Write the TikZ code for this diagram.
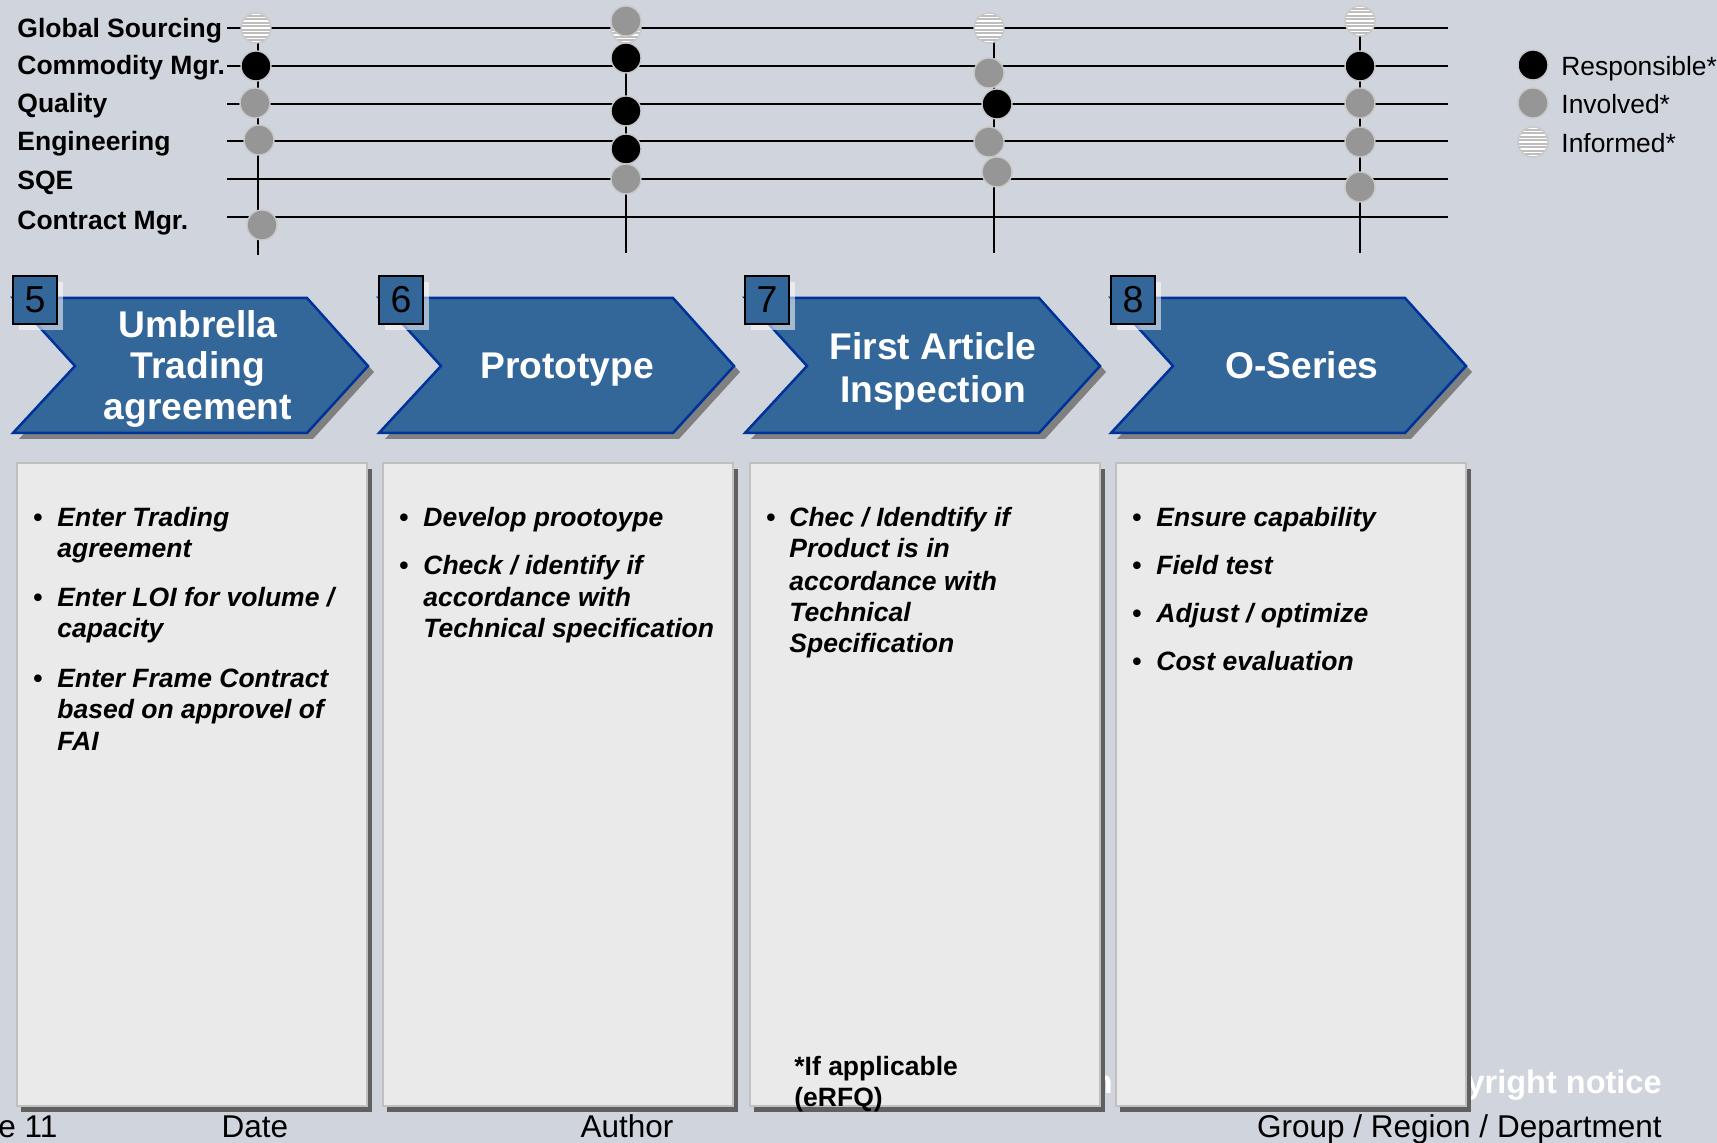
\documentclass[tikz,border=0pt]{standalone}
\usepackage{fontspec}
\setmainfont{Liberation Sans}
\definecolor{bg}{RGB}{208,212,220}
\definecolor{chevblue}{RGB}{51,102,153}
\definecolor{chevedge}{RGB}{0,51,153}
\definecolor{chevshade}{RGB}{128,128,128}
\definecolor{boxfill}{RGB}{234,234,234}
\definecolor{boxedge}{RGB}{192,192,192}
\definecolor{boxshade}{RGB}{96,96,96}
\definecolor{invgray}{RGB}{150,150,150}
\definecolor{infgray}{RGB}{190,190,190}
\definecolor{dotrim}{RGB}{200,200,200}
\begin{document}
\begin{tikzpicture}[x=0.5pt,y=-0.5pt,
  rowline/.style={line width=1pt},
  rowlabel/.style={anchor=base west,inner sep=0pt,font=\fontsize{13.25}{15}\selectfont\bfseries},
  dot/.style={circle,minimum size=15pt,inner sep=0pt,draw=dotrim,line width=0.7pt},
  resp/.style={dot,fill=black},
  invl/.style={dot,fill=invgray},
  info/.style={dot,fill=infgray,path picture={
      \foreach \k in {-4,...,4}
        \draw[white,line width=0.85pt]
          ([yshift=\k*1.75pt]path picture bounding box.west) --
          ([yshift=\k*1.75pt]path picture bounding box.east);}},
  legtext/.style={anchor=base west,inner sep=0pt,font=\fontsize{13.2}{15}\selectfont},
  chevron/.style={fill=chevblue,draw=chevedge,line width=1.25pt,line join=miter},
  chevtext/.style={anchor=base,inner sep=0pt,text=white,font=\fontsize{18.6}{21}\selectfont\bfseries},
  numbox/.style={draw=black,fill=chevblue,line width=0.75pt,minimum width=22pt,minimum height=24pt,inner sep=0pt,font=\fontsize{18.75}{20}\selectfont},
  card/.style={fill=boxfill,draw=boxedge,line width=1pt},
  cardshade/.style={fill=boxshade},
  item/.style={anchor=base west,inner sep=0pt,font=\fontsize{13.25}{15}\selectfont\bfseries\itshape},
  bul/.style={anchor=base,inner sep=0pt,font=\fontsize{13.25}{15}\selectfont\bfseries},
  note/.style={anchor=base west,inner sep=0pt,font=\fontsize{13.25}{15}\selectfont\bfseries},
  foot/.style={anchor=base,inner sep=0pt,font=\fontsize{15.75}{18}\selectfont},
  ghost/.style={anchor=base east,inner sep=0pt,text=white,font=\fontsize{16.25}{18}\selectfont\bfseries},
]
% canvas
\fill[bg] (0,0) rectangle (1717,1143);
\useasboundingbox (0,0) rectangle (1717,1143);

% ---- responsibility matrix: role lines ----
\foreach \yy [count=\i] in {28,66,104,141,179,217}{
  \coordinate (rs\i) at (227,\yy);
  \coordinate (re\i) at (1448,\yy);
  \draw[rowline] (rs\i) -- (re\i);
}
\node[rowlabel] (lab1) at (17,38)  {Global Sourcing};
\node[rowlabel] (lab2) at (17,75)  {Commodity Mgr.};
\node[rowlabel] (lab3) at (17,113) {Quality};
\node[rowlabel] (lab4) at (17,151) {Engineering};
\node[rowlabel] (lab5) at (17,190) {SQE};
\node[rowlabel] (lab6) at (17,230) {Contract Mgr.};

% phase columns
\coordinate (ct1) at (258,28);   \coordinate (cb1) at (258,255);
\coordinate (ct2) at (626,28);   \coordinate (cb2) at (626,253);
\coordinate (ct3) at (994,28);   \coordinate (cb3) at (994,253);
\coordinate (ct4) at (1360,21);  \coordinate (cb4) at (1360,253);
\foreach \i in {1,...,4}{\draw[rowline] (ct\i) -- (cb\i);}

% column 1
\node[info] (a1) at (256,28)  {};
\node[resp] (a2) at (256,66)  {};
\node[invl] (a3) at (255,103) {};
\node[invl] (a4) at (259,140) {};
\node[invl] (a6) at (262,225) {};
% column 2
\node[info] (b1) at (626,28)  {};
\node[invl] (b0) at (626,21)  {};
\node[resp] (b2) at (626,58)  {};
\node[resp] (b3) at (626,111) {};
\node[resp] (b4) at (626,149) {};
\node[invl] (b5) at (626,179) {};
% column 3
\node[info] (c1) at (989,28)  {};
\node[invl] (c2) at (989,73)  {};
\node[resp] (c3) at (997,104) {};
\node[invl] (c4) at (989,142) {};
\node[invl] (c5) at (997,172) {};
% column 4
\node[info] (d1) at (1360,21)  {};
\node[resp] (d2) at (1360,66)  {};
\node[invl] (d3) at (1360,103) {};
\node[invl] (d4) at (1360,142) {};
\node[invl] (d5) at (1360,187) {};

% legend
\node[resp] (kr) at (1533,65)  {};
\node[invl] (ki) at (1533,103) {};
\node[info] (kf) at (1533,142) {};
\node[legtext] (ktr) at (1561,76)  {Responsible*};
\node[legtext] (kti) at (1561,114) {Involved*};
\node[legtext] (ktf) at (1561,153) {Informed*};

% ---- footer line lying under the cards ----
\node[ghost] (gh1) at (1113,1093) {n};
\node[ghost] (gh2) at (1662,1093) {yright notice};

% ---- phase cards ----
\foreach \L in {17,383,750,1116}{
  \fill[cardshade] (\L+4,469) rectangle (\L+355,1112);
  \draw[card] (\L,463) rectangle (\L+350,1106);
}

% ---- phase chevrons ----
\foreach \L/\n in {13/5,379/6,745/7,1111/8}{
  \fill[chevshade] (\L+6,304) -- (\L+300,304) -- (\L+361,372) -- (\L+300,439)
        -- (\L+6,439) -- (\L+68,372) -- cycle;
  \draw[chevron] (\L,298) -- (\L+294,298) -- (\L+355,366) -- (\L+294,433)
        -- (\L,433) -- (\L+62,366) -- cycle;
  \fill[white,opacity=0.55] (\L+6,282) rectangle (\L+50,330);
  \node[numbox] (num\n) at (\L+22,300) {\n};
}
\node[chevtext] (p1a) at (198,338) {Umbrella};
\node[chevtext] (p1b) at (198,379) {Trading};
\node[chevtext] (p1c) at (198,420) {agreement};
\node[chevtext] (p2a) at (567,379) {Prototype};
\node[chevtext] (p3a) at (933,360) {First Article};
\node[chevtext] (p3b) at (933,403) {Inspection};
\node[chevtext] (p4a) at (1302,379) {O-Series};

% ---- card contents ----
% card 1
\node[bul]  (u1) at (38,527) {•};
\node[item] (t1) at (57,527) {Enter Trading};
\node[item] (t2) at (57,558) {agreement};
\node[bul]  (u2) at (38,607) {•};
\node[item] (t3) at (57,607) {Enter LOI for volume /};
\node[item] (t4) at (57,638) {capacity};
\node[bul]  (u3) at (38,687) {•};
\node[item] (t5) at (57,687) {Enter Frame Contract};
\node[item] (t6) at (57,718) {based on approvel of};
\node[item] (t7) at (57,750) {FAI};
% card 2
\node[bul]  (v1) at (404,527) {•};
\node[item] (s1) at (423,527) {Develop prootoype};
\node[bul]  (v2) at (404,575) {•};
\node[item] (s2) at (423,575) {Check / identify if};
\node[item] (s3) at (423,607) {accordance with};
\node[item] (s4) at (423,638) {Technical specification};
% card 3
\node[bul]  (w1) at (771,527) {•};
\node[item] (q1) at (789,527) {Chec / Idendtify if};
\node[item] (q2) at (789,558) {Product is in};
\node[item] (q3) at (789,590) {accordance with};
\node[item] (q4) at (789,622) {Technical};
\node[item] (q5) at (789,653) {Specification};
\node[note] (n1) at (794,1075) {*If applicable};
\node[note] (n2) at (794,1106) {(eRFQ)};
% card 4
\node[bul]  (x1) at (1137,527) {•};
\node[item] (o1) at (1156,527) {Ensure capability};
\node[bul]  (x2) at (1137,575) {•};
\node[item] (o2) at (1156,575) {Field test};
\node[bul]  (x3) at (1137,623) {•};
\node[item] (o3) at (1156,623) {Adjust / optimize};
\node[bul]  (x4) at (1137,670) {•};
\node[item] (o4) at (1156,670) {Cost evaluation};

% ---- footer ----
\node[foot,anchor=base west] (pg) at (-2,1137) {e 11};
\node[foot] (dt) at (255,1137) {Date};
\node[foot] (au) at (627,1137) {Author};
\node[foot,anchor=base east] (gr) at (1662,1137) {Group / Region / Department};
\end{tikzpicture}
\end{document}
